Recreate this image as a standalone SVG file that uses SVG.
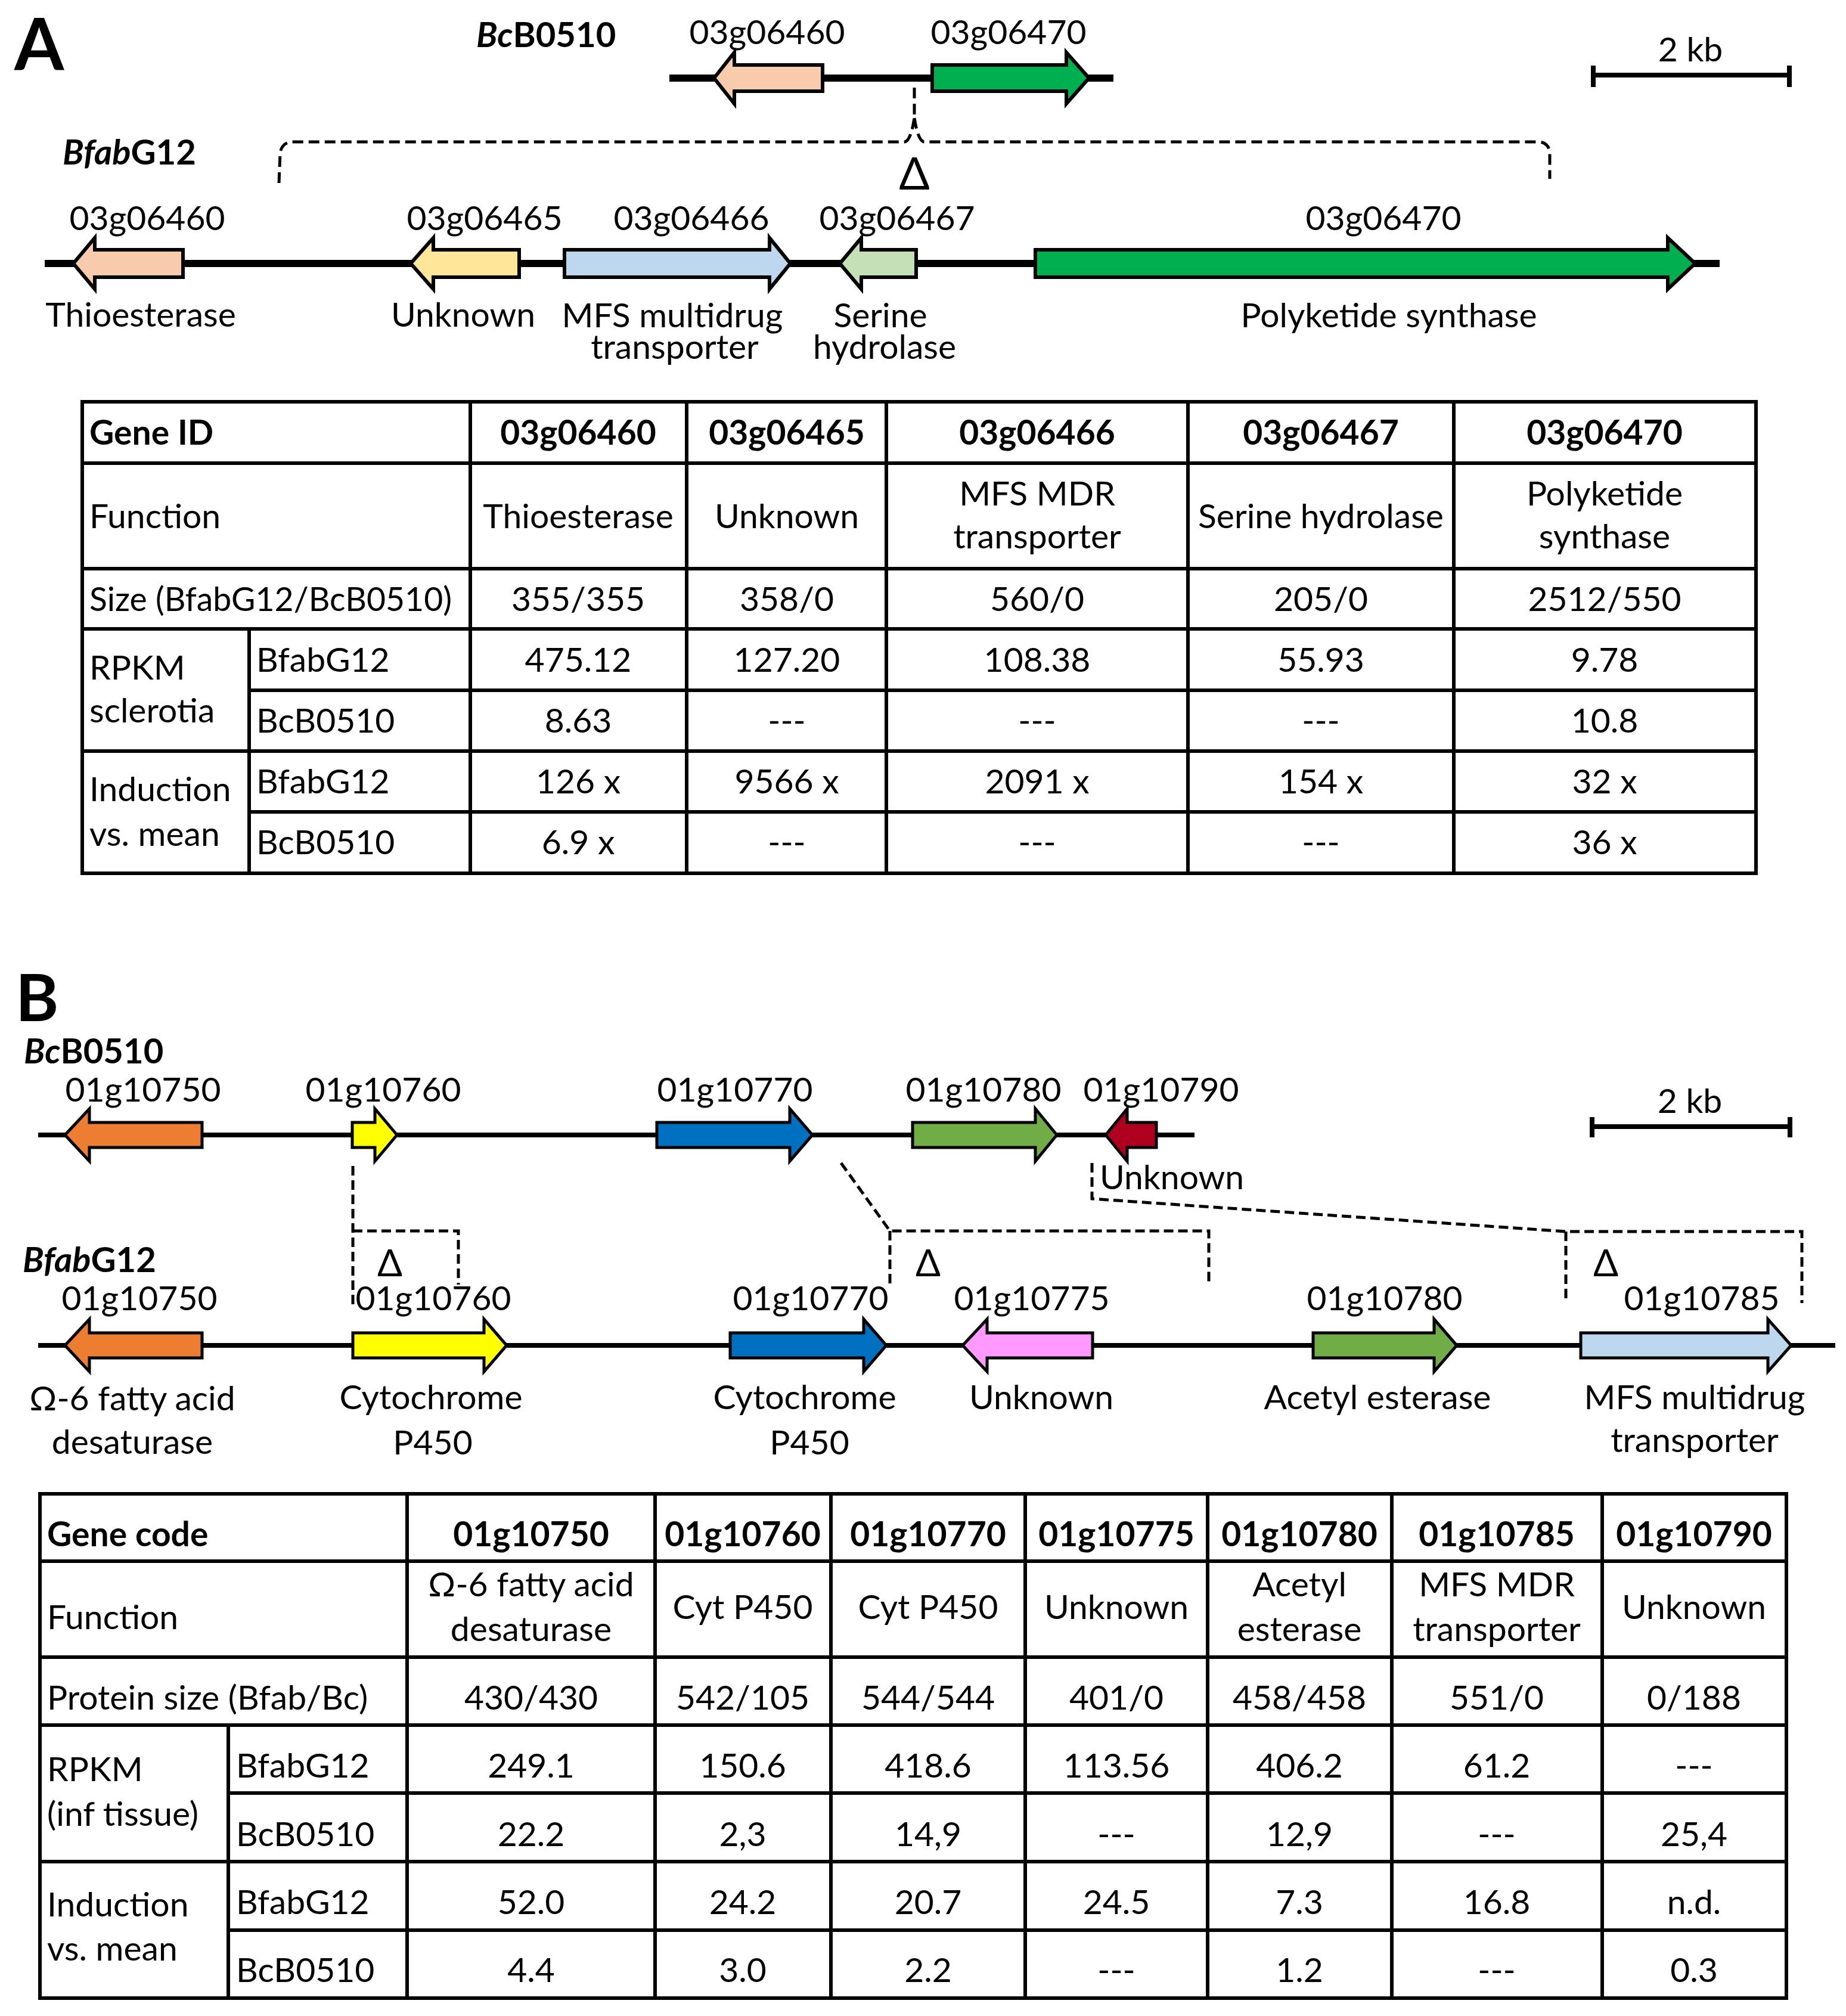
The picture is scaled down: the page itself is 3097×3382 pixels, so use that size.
<svg xmlns="http://www.w3.org/2000/svg" width="3097" height="3382" viewBox="0 0 3097 3382">
<style>
text{font-family:Lato,"Liberation Sans",sans-serif;font-size:57px;fill:#000}
.m{text-anchor:middle}
.b{font-weight:bold}
.i{font-style:italic}
.ttl{font-size:58px;font-weight:bold}
.pl{font-size:120px;font-weight:bold}
.la{stroke:#000;stroke-width:12;fill:none}
.lb{stroke:#000;stroke-width:8;fill:none}
.ga{stroke:#000;stroke-width:6;stroke-linejoin:miter}
.gb{stroke:#000;stroke-width:5;stroke-linejoin:miter}
.da{stroke:#000;stroke-width:5;fill:none;stroke-dasharray:18 9}
.db{stroke:#000;stroke-width:5;fill:none;stroke-dasharray:16 8}
.tb{stroke:#000;stroke-width:6;fill:none}
.sb{stroke:#000;stroke-width:8;fill:none}
.dl{font-size:62px}
</style>
<rect width="3097" height="3382" fill="#fff"/>

<!-- ===== Panel A ===== -->
<text class="pl" x="24" y="118">A</text>
<text class="ttl" x="799" y="79"><tspan class="i">Bc</tspan>B0510</text>
<text class="ttl" x="105" y="276"><tspan class="i">Bfab</tspan>G12</text>

<g id="scaleA">
<path class="sb" d="M2673,126 H3002 M2673,110 V146 M3002,110 V146"/>
<text class="m" x="2836" y="103">2 kb</text>
</g>

<g id="locusA_Bc">
<path class="la" d="M1123,131 H1868"/>
<g id="A_Bc_03g06460"><path class="ga" fill="#F8CBAD" d="M1380,109 L1232,109 L1232,88 L1198,131 L1232,174 L1232,153 L1380,153 Z"/><text class="m" x="1287" y="74">03g06460</text></g>
<g id="A_Bc_03g06470"><path class="ga" fill="#00B050" d="M1564,109 L1789,109 L1789,88 L1827,131 L1789,174 L1789,153 L1564,153 Z"/><text class="m" x="1692" y="74">03g06470</text></g>
</g>

<g id="connectorsA">
<path class="da" d="M468,307 L470,258 Q472,238 492,238 L1518,238 Q1528,236 1534,198 M1534,198 Q1540,236 1550,238 L2580,238 Q2598,238 2600,256 L2600,300"/>
<path class="da" d="M1534,147 V198"/>
<text class="m" x="1534" y="318" style="font-size:76px">Δ</text>
</g>

<g id="locusA_Bfab">
<path class="la" d="M75,442 H2885"/>
<g id="A_03g06460"><path class="ga" fill="#F8CBAD" d="M307,419 L159,419 L159,399 L123,442 L159,485 L159,465 L307,465 Z"/><text class="m" x="247" y="386">03g06460</text><text class="m" x="236" y="548">Thioesterase</text></g>
<g id="A_03g06465"><path class="ga" fill="#FFE699" d="M871,419 L727,419 L727,399 L689,442 L727,485 L727,465 L871,465 Z"/><text class="m" x="813" y="386">03g06465</text><text class="m" x="777" y="548">Unknown</text></g>
<g id="A_03g06466"><path class="ga" fill="#BDD7EE" d="M947,419 L1291,419 L1291,399 L1326,442 L1291,485 L1291,465 L947,465 Z"/><text class="m" x="1160" y="386">03g06466</text><text class="m" x="1128" y="549">MFS multidrug</text><text class="m" x="1132" y="602">transporter</text></g>
<g id="A_03g06467"><path class="ga" fill="#C5E0B4" d="M1537,419 L1445,419 L1445,399 L1409,442 L1445,485 L1445,465 L1537,465 Z"/><text class="m" x="1505" y="386">03g06467</text><text class="m" x="1477" y="549">Serine</text><text class="m" x="1484" y="602">hydrolase</text></g>
<g id="A_03g06470"><path class="ga" fill="#00B050" d="M1737,419 L2798,419 L2798,399 L2844,442 L2798,485 L2798,465 L1737,465 Z"/><text class="m" x="2321" y="386">03g06470</text><text class="m" x="2330" y="549">Polyketide synthase</text></g>
</g>

<g id="tableA">
<path class="tb" d="M138,674 H2946 V1465 H138 Z M138,777 H2946 M138,954 H2946 M138,1055 H2946 M138,1260 H2946 M418,1158 H2946 M418,1362 H2946 M789,674 V1465 M1152,674 V1465 M1487,674 V1465 M1993,674 V1465 M2439,674 V1465 M418,1055 V1465"/>
<text class="b" x="150" y="746">Gene ID</text>
<text class="b m" x="970" y="746">03g06460</text>
<text class="b m" x="1320" y="746">03g06465</text>
<text class="b m" x="1740" y="746">03g06466</text>
<text class="b m" x="2216" y="746">03g06467</text>
<text class="b m" x="2692" y="746">03g06470</text>
<text x="150" y="886">Function</text>
<text class="m" x="970" y="886">Thioesterase</text>
<text class="m" x="1320" y="886">Unknown</text>
<text class="m" x="1740" y="848">MFS MDR</text>
<text class="m" x="1740" y="920">transporter</text>
<text class="m" x="2216" y="886">Serine hydrolase</text>
<text class="m" x="2692" y="848">Polyketide</text>
<text class="m" x="2692" y="920">synthase</text>
<text x="150" y="1025" textLength="608" lengthAdjust="spacingAndGlyphs">Size (BfabG12/BcB0510)</text>
<text class="m" x="970" y="1025">355/355</text>
<text class="m" x="1320" y="1025">358/0</text>
<text class="m" x="1740" y="1025">560/0</text>
<text class="m" x="2216" y="1025">205/0</text>
<text class="m" x="2692" y="1025">2512/550</text>
<text x="150" y="1140">RPKM</text>
<text x="150" y="1212">sclerotia</text>
<text x="430" y="1127">BfabG12</text>
<text class="m" x="970" y="1127">475.12</text>
<text class="m" x="1320" y="1127">127.20</text>
<text class="m" x="1740" y="1127">108.38</text>
<text class="m" x="2216" y="1127">55.93</text>
<text class="m" x="2692" y="1127">9.78</text>
<text x="430" y="1229">BcB0510</text>
<text class="m" x="970" y="1229">8.63</text>
<text class="m" x="1320" y="1229">---</text>
<text class="m" x="1740" y="1229">---</text>
<text class="m" x="2216" y="1229">---</text>
<text class="m" x="2692" y="1229">10.8</text>
<text x="150" y="1344">Induction</text>
<text x="150" y="1419">vs. mean</text>
<text x="430" y="1331">BfabG12</text>
<text class="m" x="970" y="1331">126 x</text>
<text class="m" x="1320" y="1331">9566 x</text>
<text class="m" x="1740" y="1331">2091 x</text>
<text class="m" x="2216" y="1331">154 x</text>
<text class="m" x="2692" y="1331">32 x</text>
<text x="430" y="1433">BcB0510</text>
<text class="m" x="970" y="1433">6.9 x</text>
<text class="m" x="1320" y="1433">---</text>
<text class="m" x="1740" y="1433">---</text>
<text class="m" x="2216" y="1433">---</text>
<text class="m" x="2692" y="1433">36 x</text>
</g>

<!-- ===== Panel B ===== -->
<text class="pl" x="26" y="1713" style="font-size:110px">B</text>
<text class="ttl" x="40" y="1784"><tspan class="i">Bc</tspan>B0510</text>
<text class="ttl" x="38" y="2134"><tspan class="i">Bfab</tspan>G12</text>

<g id="scaleB">
<path class="sb" d="M2671,1890 H3003 M2671,1874 V1908 M3003,1874 V1908"/>
<text class="m" x="2835" y="1867">2 kb</text>
</g>

<g id="locusB_Bc">
<path class="lb" d="M64,1904 H2004"/>
<g id="B_Bc_01g10750"><path class="gb" fill="#ED7D31" d="M339,1883 L150,1883 L150,1860 L109,1904 L150,1948 L150,1925 L339,1925 Z"/><text class="m" x="240" y="1848">01g10750</text></g>
<g id="B_Bc_01g10760"><path class="gb" fill="#FFFF00" d="M591,1883 L629,1883 L629,1860 L666,1904 L629,1948 L629,1925 L591,1925 Z"/><text class="m" x="643" y="1848">01g10760</text></g>
<g id="B_Bc_01g10770"><path class="gb" fill="#0070C0" d="M1102,1883 L1325,1883 L1325,1860 L1363,1904 L1325,1948 L1325,1925 L1102,1925 Z"/><text class="m" x="1233" y="1848">01g10770</text></g>
<g id="B_Bc_01g10780"><path class="gb" fill="#70AD47" d="M1531,1883 L1737,1883 L1737,1860 L1773,1904 L1737,1948 L1737,1925 L1531,1925 Z"/><text class="m" x="1650" y="1848">01g10780</text></g>
<g id="B_Bc_01g10790"><path class="gb" fill="#B00020" d="M1940,1883 L1891,1883 L1891,1860 L1855,1904 L1891,1948 L1891,1925 L1940,1925 Z"/><text class="m" x="1948" y="1848">01g10790</text><text x="1845" y="1995">Unknown</text></g>
</g>

<g id="connectorsB">
<path class="db" d="M592,1956 V2190 M592,2065 H769 V2155"/>
<path class="db" d="M1411,1951 L1493,2065 H2028 V2155 M1493,2065 V2155"/>
<path class="db" d="M1832,1951 V2011 L2627,2066 H3023 V2186 M2627,2066 V2186"/>
<text class="m dl" x="654" y="2141">Δ</text>
<text class="m dl" x="1557" y="2141">Δ</text>
<text class="m dl" x="2694" y="2141">Δ</text>
</g>

<g id="locusB_Bfab">
<path class="lb" d="M64,2257 H3079"/>
<g id="B_01g10750"><path class="gb" fill="#ED7D31" d="M339,2236 L150,2236 L150,2213 L109,2257 L150,2301 L150,2278 L339,2278 Z"/><text class="m" x="234" y="2198">01g10750</text><text class="m" x="222" y="2366">Ω-6 fatty acid</text><text class="m" x="222" y="2439">desaturase</text></g>
<g id="B_01g10760"><path class="gb" fill="#FFFF00" d="M592,2236 L812,2236 L812,2213 L850,2257 L812,2301 L812,2278 L592,2278 Z"/><text class="m" x="727" y="2198">01g10760</text><text class="m" x="723" y="2364">Cytochrome</text><text class="m" x="726" y="2440">P450</text></g>
<g id="B_01g10770"><path class="gb" fill="#0070C0" d="M1225,2236 L1449,2236 L1449,2213 L1487,2257 L1449,2301 L1449,2278 L1225,2278 Z"/><text class="m" x="1360" y="2198">01g10770</text><text class="m" x="1350" y="2364">Cytochrome</text><text class="m" x="1358" y="2440">P450</text></g>
<g id="B_01g10775"><path class="gb" fill="#FF99FF" d="M1833,2236 L1656,2236 L1656,2213 L1615,2257 L1656,2301 L1656,2278 L1833,2278 Z"/><text class="m" x="1731" y="2198">01g10775</text><text class="m" x="1747" y="2364">Unknown</text></g>
<g id="B_01g10780"><path class="gb" fill="#70AD47" d="M2203,2236 L2406,2236 L2406,2213 L2444,2257 L2406,2301 L2406,2278 L2203,2278 Z"/><text class="m" x="2323" y="2198">01g10780</text><text class="m" x="2311" y="2364">Acetyl esterase</text></g>
<g id="B_01g10785"><path class="gb" fill="#BDD7EE" d="M2652,2236 L2966,2236 L2966,2213 L3005,2257 L2966,2301 L2966,2278 L2652,2278 Z"/><text class="m" x="2855" y="2198">01g10785</text><text class="m" x="2843" y="2364">MFS multidrug</text><text class="m" x="2843" y="2436">transporter</text></g>
</g>

<g id="tableB">
<path class="tb" d="M67,2506 H2997 V3352 H67 Z M67,2619 H2997 M67,2780 H2997 M67,2894 H2997 M67,3123 H2997 M383,3008 H2997 M383,3238 H2997 M683,2506 V3352 M1099,2506 V3352 M1394,2506 V3352 M1720,2506 V3352 M2026,2506 V3352 M2335,2506 V3352 M2688,2506 V3352 M383,2894 V3352"/>
<text class="b" x="79" y="2594">Gene code</text>
<text class="b m" x="891" y="2594">01g10750</text>
<text class="b m" x="1246" y="2594">01g10760</text>
<text class="b m" x="1557" y="2594">01g10770</text>
<text class="b m" x="1873" y="2594">01g10775</text>
<text class="b m" x="2180" y="2594">01g10780</text>
<text class="b m" x="2511" y="2594">01g10785</text>
<text class="b m" x="2842" y="2594">01g10790</text>
<text x="79" y="2733">Function</text>
<text class="m" x="891" y="2678">Ω-6 fatty acid</text>
<text class="m" x="891" y="2753">desaturase</text>
<text class="m" x="1246" y="2716">Cyt P450</text>
<text class="m" x="1557" y="2716">Cyt P450</text>
<text class="m" x="1873" y="2716">Unknown</text>
<text class="m" x="2180" y="2678">Acetyl</text>
<text class="m" x="2180" y="2753">esterase</text>
<text class="m" x="2511" y="2678">MFS MDR</text>
<text class="m" x="2511" y="2753">transporter</text>
<text class="m" x="2842" y="2716">Unknown</text>
<text x="79" y="2868">Protein size (Bfab/Bc)</text>
<text class="m" x="891" y="2868">430/430</text>
<text class="m" x="1246" y="2868">542/105</text>
<text class="m" x="1557" y="2868">544/544</text>
<text class="m" x="1873" y="2868">401/0</text>
<text class="m" x="2180" y="2868">458/458</text>
<text class="m" x="2511" y="2868">551/0</text>
<text class="m" x="2842" y="2868">0/188</text>
<text x="79" y="2988">RPKM</text>
<text x="79" y="3063">(inf tissue)</text>
<text x="396" y="2982">BfabG12</text>
<text class="m" x="891" y="2982">249.1</text>
<text class="m" x="1246" y="2982">150.6</text>
<text class="m" x="1557" y="2982">418.6</text>
<text class="m" x="1873" y="2982">113.56</text>
<text class="m" x="2180" y="2982">406.2</text>
<text class="m" x="2511" y="2982">61.2</text>
<text class="m" x="2842" y="2982">---</text>
<text x="396" y="3097">BcB0510</text>
<text class="m" x="891" y="3097">22.2</text>
<text class="m" x="1246" y="3097">2,3</text>
<text class="m" x="1557" y="3097">14,9</text>
<text class="m" x="1873" y="3097">---</text>
<text class="m" x="2180" y="3097">12,9</text>
<text class="m" x="2511" y="3097">---</text>
<text class="m" x="2842" y="3097">25,4</text>
<text x="79" y="3215">Induction</text>
<text x="79" y="3289">vs. mean</text>
<text x="396" y="3211">BfabG12</text>
<text class="m" x="891" y="3211">52.0</text>
<text class="m" x="1246" y="3211">24.2</text>
<text class="m" x="1557" y="3211">20.7</text>
<text class="m" x="1873" y="3211">24.5</text>
<text class="m" x="2180" y="3211">7.3</text>
<text class="m" x="2511" y="3211">16.8</text>
<text class="m" x="2842" y="3211">n.d.</text>
<text x="396" y="3325">BcB0510</text>
<text class="m" x="891" y="3325">4.4</text>
<text class="m" x="1246" y="3325">3.0</text>
<text class="m" x="1557" y="3325">2.2</text>
<text class="m" x="1873" y="3325">---</text>
<text class="m" x="2180" y="3325">1.2</text>
<text class="m" x="2511" y="3325">---</text>
<text class="m" x="2842" y="3325">0.3</text>
</g>
</svg>
